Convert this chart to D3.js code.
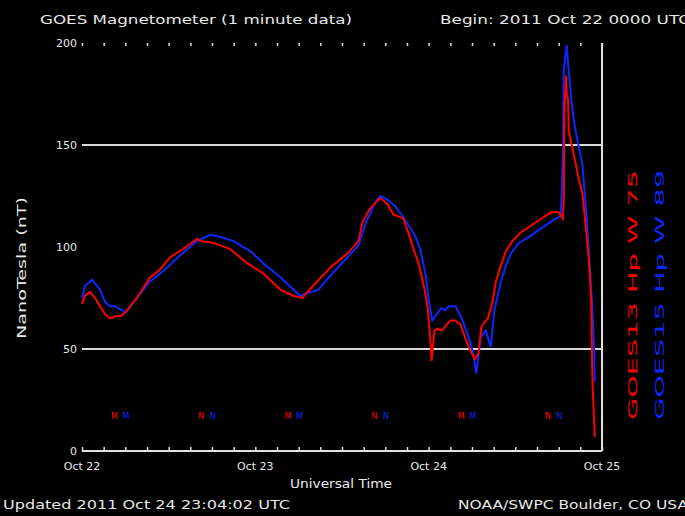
<!DOCTYPE html>
<html>
<head>
<meta charset="utf-8">
<script src="https://cdn.jsdelivr.net/npm/d3@7"></script>
<style>
  html, body { margin: 0; padding: 0; background: #000; }
  svg text { font-family: "DejaVu Sans", sans-serif; fill: #e8e8e8; }
</style>
</head>
<body>
<svg id="chart" width="685" height="516"></svg>
<script>
// hours since 2011 Oct 22 00:00 UTC, and field in nT
const redHours = [0.0, 0.4, 1.1, 1.8, 2.5, 3.2, 3.9, 4.6, 5.3, 6.0, 7.6, 9.4, 10.8, 12.2, 14.0, 15.9, 16.4, 18.2, 20.5, 22.9,
    25.1, 27.5, 29.3, 30.5, 32.0, 34.4, 36.8, 38.3, 38.8, 39.9, 41.3, 42.3, 43.1, 44.5, 45.1, 45.8, 46.6, 47.2, 47.6, 47.9,
    48.3, 48.4, 48.8, 49.2, 49.8, 50.3, 51.0, 51.7, 52.4, 53.1, 53.8, 54.4, 54.9, 55.3, 56.2, 56.9, 57.3, 58.0, 58.7, 59.6,
    60.7, 62.8, 64.9, 66.0, 66.6, 66.7, 66.8, 67.0, 67.1, 67.3, 67.4, 67.7, 68.0, 68.4, 68.8, 69.3, 69.8, 70.2, 70.5, 70.6,
    70.7, 71.0];
const redValues = [72, 76, 78, 75, 71, 67, 65, 66, 66, 68, 75, 85, 89, 95, 99, 104, 103, 102, 99, 92,
    87, 79, 76, 75, 81, 90, 97, 103, 112, 119, 124, 121, 116, 114, 108, 100, 92, 83, 76, 69,
    51, 44, 59, 60, 59, 61, 64, 64, 62, 55, 49, 45, 48, 61, 65, 74, 83, 91, 98, 103,
    107, 112, 117, 117, 114, 123, 167, 184, 176, 172, 157, 152, 147, 140, 133, 126, 108, 93, 74, 49,
    32, 7];

const blueHours = [0.0, 0.4, 1.4, 2.5, 3.2, 3.9, 4.6, 5.5, 6.1, 7.6, 9.4, 11.5, 13.6, 15.9, 17.8, 19.1, 20.9, 23.3, 25.1, 27.5,
    29.3, 30.2, 30.9, 32.7, 34.4, 36.5, 38.3, 39.3, 40.6, 41.3, 42.4, 43.4, 44.8, 46.2, 46.9, 47.6, 48.0, 48.5, 48.9, 49.7,
    50.3, 50.8, 51.7, 52.7, 53.5, 54.1, 54.6, 55.2, 55.9, 56.6, 57.1, 58.0, 58.7, 59.4, 60.5, 61.9, 63.5, 65.6, 66.3, 66.6,
    66.7, 67.1, 67.4, 67.7, 68.1, 68.5, 68.9, 69.3, 69.9, 70.3, 70.6, 70.9, 71.0];
const blueValues = [75, 81, 84, 79, 73, 71, 71, 69, 68, 75, 83, 89, 96, 103, 106, 105, 103, 98, 92, 85,
    79, 76, 77, 79, 86, 94, 101, 112, 122, 125, 123, 120, 113, 105, 98, 86, 74, 64, 66, 70,
    69, 71, 71, 64, 56, 49, 38, 56, 59, 51, 69, 83, 91, 97, 102, 105, 109, 114, 115, 147,
    186, 199, 186, 174, 162, 154, 147, 140, 113, 91, 74, 51, 34];

// local midnight (M) / noon (N) markers for each satellite
const markerLabels = ["M", "N", "M", "N", "M", "N"];
const redMarkerHours = [4.5, 16.5, 28.5, 40.5, 52.5, 64.5];
const blueMarkerHours = [6.1, 18.1, 30.1, 42.1, 54.1, 66.1];

const yTicks = [0, 50, 100, 150, 200];
const yGrid = [50, 150];
const dayLabels = ["Oct 22", "Oct 23", "Oct 24", "Oct 25"];

const start = new Date(Date.UTC(2011, 9, 22, 0, 0));
const end = new Date(Date.UTC(2011, 9, 25, 0, 0));
const toDate = (h) => new Date(start.getTime() + h * 3600e3);

const svg = d3.select("#chart");
svg.append("rect").attr("width", 685).attr("height", 516).attr("fill", "#000");

const margin = { left: 82, right: 602, top: 43, bottom: 451 };

const x = d3.scaleUtc().domain([start, end]).range([margin.left, margin.right]);
const y = d3.scaleLinear().domain([0, 200]).range([margin.bottom, margin.top]);

// grid lines at 50 and 150
svg.append("g")
    .selectAll("line")
    .data(yGrid)
    .join("line")
    .attr("x1", margin.left)
    .attr("x2", margin.right)
    .attr("y1", (d) => y(d))
    .attr("y2", (d) => y(d))
    .attr("stroke", "#d8d8d8")
    .attr("stroke-width", 2);

// bottom axis with 3-hour ticks pointing up
const bottomAxis = d3.axisTop(x)
    .ticks(d3.utcHour.every(3))
    .tickSize(4)
    .tickFormat("");
const gb = svg.append("g").attr("transform", `translate(0,${margin.bottom})`).call(bottomAxis);
gb.select(".domain").remove();
gb.selectAll("line").attr("stroke", "#e0e0e0").attr("stroke-width", 1.5);
svg.append("line")
    .attr("x1", margin.left).attr("x2", margin.right)
    .attr("y1", margin.bottom).attr("y2", margin.bottom)
    .attr("stroke", "#e0e0e0").attr("stroke-width", 2);

// top ticks pointing down (no top line)
const topAxis = d3.axisBottom(x)
    .ticks(d3.utcHour.every(3))
    .tickSize(3)
    .tickFormat("");
const gt = svg.append("g").attr("transform", `translate(0,${margin.top})`).call(topAxis);
gt.select(".domain").remove();
gt.selectAll("line").attr("stroke", "#e0e0e0").attr("stroke-width", 1.5);

// right border
svg.append("line")
    .attr("x1", margin.right).attr("x2", margin.right)
    .attr("y1", margin.top).attr("y2", margin.bottom)
    .attr("stroke", "#e0e0e0").attr("stroke-width", 2);

// y tick labels
svg.append("g")
    .selectAll("text")
    .data(yTicks)
    .join("text")
    .attr("x", 77)
    .attr("y", (d) => y(d))
    .attr("dy", "0.35em")
    .attr("text-anchor", "end")
    .attr("font-size", 11)
    .text((d) => d);

// day labels
svg.append("g")
    .selectAll("text")
    .data(dayLabels)
    .join("text")
    .attr("x", (d, i) => x(d3.utcDay.offset(start, i)))
    .attr("y", 470)
    .attr("text-anchor", "middle")
    .attr("font-size", 11)
    .text((d) => d);

// data lines
const line = d3.line()
    .x((d) => x(toDate(d[0])))
    .y((d) => y(d[1]));

function drawSeries(hours, values, color) {
    svg.append("path")
        .datum(d3.zip(hours, values))
        .attr("fill", "none")
        .attr("stroke", color)
        .attr("stroke-width", 2)
        .attr("d", line);
}
drawSeries(blueHours, blueValues, "#0a28ff");
drawSeries(redHours, redValues, "#ff0000");

// M / N markers
function drawMarkers(hours, color) {
    svg.append("g")
        .selectAll("text")
        .data(hours)
        .join("text")
        .attr("x", (d) => x(toDate(d)))
        .attr("y", 419)
        .attr("text-anchor", "middle")
        .attr("font-size", 8)
        .style("fill", color)
        .text((d, i) => markerLabels[i]);
}
drawMarkers(redMarkerHours, "#ff0000");
drawMarkers(blueMarkerHours, "#0a28ff");

// titles and labels
svg.append("text").attr("x", 40).attr("y", 24).attr("font-size", 13)
    .attr("textLength", 312).attr("lengthAdjust", "spacingAndGlyphs")
    .text("GOES Magnetometer (1 minute data)");
svg.append("text").attr("x", 440).attr("y", 24).attr("font-size", 13)
    .attr("textLength", 250).attr("lengthAdjust", "spacingAndGlyphs")
    .text("Begin: 2011 Oct 22 0000 UTC");
svg.append("text").attr("transform", "translate(26,268) rotate(-90)")
    .attr("text-anchor", "middle").attr("font-size", 13)
    .attr("textLength", 142).attr("lengthAdjust", "spacingAndGlyphs")
    .text("NanoTesla (nT)");
svg.append("text").attr("x", 341).attr("y", 488).attr("text-anchor", "middle").attr("font-size", 12)
    .attr("textLength", 102).attr("lengthAdjust", "spacingAndGlyphs")
    .text("Universal Time");
svg.append("text").attr("x", 3).attr("y", 509).attr("font-size", 12)
    .attr("textLength", 287).attr("lengthAdjust", "spacingAndGlyphs")
    .text("Updated 2011 Oct 24 23:04:02 UTC");
svg.append("text").attr("x", 458).attr("y", 509).attr("font-size", 12)
    .attr("textLength", 230).attr("lengthAdjust", "spacingAndGlyphs")
    .text("NOAA/SWPC Boulder, CO USA");

// legend, rotated
svg.append("text").attr("transform", "translate(637,295) rotate(-90)")
    .attr("text-anchor", "middle").attr("font-size", 12).style("fill", "#ff0000")
    .attr("textLength", 250).attr("lengthAdjust", "spacingAndGlyphs")
    .text("GOES13 Hp   W 75");
svg.append("text").attr("transform", "translate(664,295) rotate(-90)")
    .attr("text-anchor", "middle").attr("font-size", 12).style("fill", "#0a28ff")
    .attr("textLength", 250).attr("lengthAdjust", "spacingAndGlyphs")
    .text("GOES15 Hp   W 89");
</script>
</body>
</html>
